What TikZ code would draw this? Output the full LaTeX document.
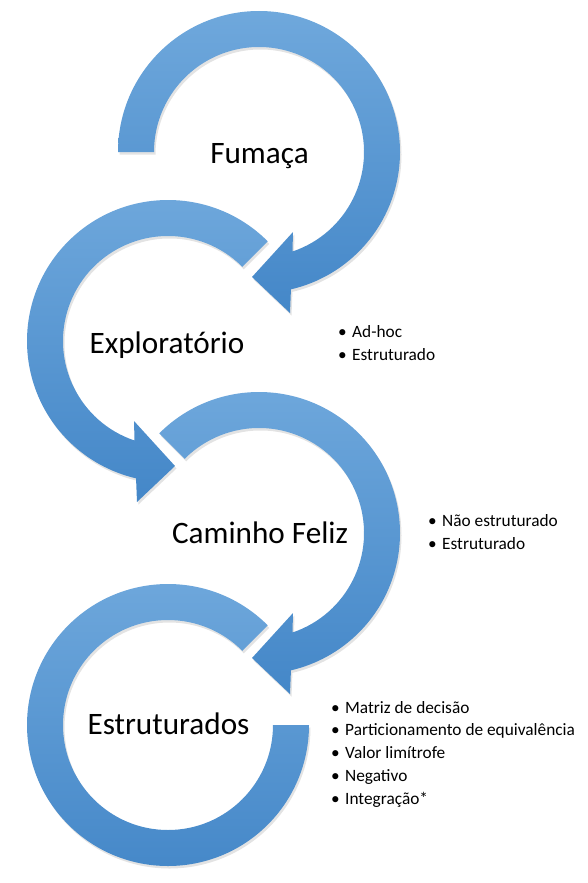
\documentclass[tikz,border=0pt]{standalone}
\usepackage{fontspec}
\setmainfont{Carlito}
\usetikzlibrary{shadows}
\definecolor{ringtop}{HTML}{6FA8DC}
\definecolor{ringbot}{HTML}{4487C8}
\tikzset{
  ring/.style={top color=ringtop, bottom color=ringbot, draw=none,
    drop shadow={shadow xshift=1.5pt, shadow yshift=-2.5pt, opacity=0.22}},
  stage/.style={font=\fontsize{31.2}{36}\selectfont, inner sep=0pt, anchor=base},
  bullets/.style={font=\fontsize{17.3}{22.7}\selectfont, align=left, inner sep=0pt, anchor=base west}
}
\newcommand{\itm}[1]{\makebox[14pt][l]{\textbullet}#1}

\begin{document}
\begin{tikzpicture}[x=1pt,y=1pt]
    \useasboundingbox (0,0) rectangle (588,-883);
    % arrow around Fumaca
    \begin{scope}[shift={(259,-152)}]
      \path[ring] (180:105) -- (180:141) arc[start angle=180, end angle=-76.9, radius=141]
        -- (31,-161) -- (-7,-125) -- (34,-80) -- (-71.4:105)
        arc[start angle=-71.4, end angle=180, radius=105] -- cycle;
    \end{scope}
    % arrow around Exploratorio
    \begin{scope}[shift={(168,-341)}]
      \path[ring] (45:105) -- (45:141) arc[start angle=45, end angle=256.9, radius=141]
        -- (-31,-161) -- (7,-125) -- (-34,-80) -- (251.4:105)
        arc[start angle=251.4, end angle=45, radius=105] -- cycle;
    \end{scope}
    % arrow around Caminho Feliz
    \begin{scope}[shift={(259,-533)}]
      \path[ring] (135:105) -- (135:141) arc[start angle=135, end angle=-76.9, radius=141]
        -- (31,-161) -- (-7,-125) -- (34,-80) -- (-71.4:105)
        arc[start angle=-71.4, end angle=135, radius=105] -- cycle;
    \end{scope}
    % ring around Estruturados, no head
    \begin{scope}[shift={(168,-725)}]
      \path[ring] (45:105) -- (45:141) arc[start angle=45, end angle=360, radius=141]
        -- (0:105) arc[start angle=360, end angle=45, radius=105] -- cycle;
    \end{scope}

    \node[stage] (fumaca) at (259.5,-163.3) {Fumaça};
    \node[stage] (exploratorio) at (167,-353.3) {Exploratório};
    \node[stage] (caminho) at (260,-543.3) {Caminho Feliz};
    \node[stage] (estruturados) at (168.5,-734) {Estruturados};

    % lists: anchor sits on the last line
    \node[bullets] (explist) at (338,-360.5) {\itm{Ad-hoc}\\ \itm{Estruturado}};
    \node[bullets] (caminholist) at (428,-549.3) {\itm{Não estruturado}\\ \itm{Estruturado}};
    \node[bullets] (estrlist) at (331,-804) {\itm{Matriz de decisão}\\ \itm{Particionamento de equivalência}\\
      \itm{Valor limítrofe}\\ \itm{Negativo}\\ \itm{Integração*}};
  \end{tikzpicture}
\end{document}
